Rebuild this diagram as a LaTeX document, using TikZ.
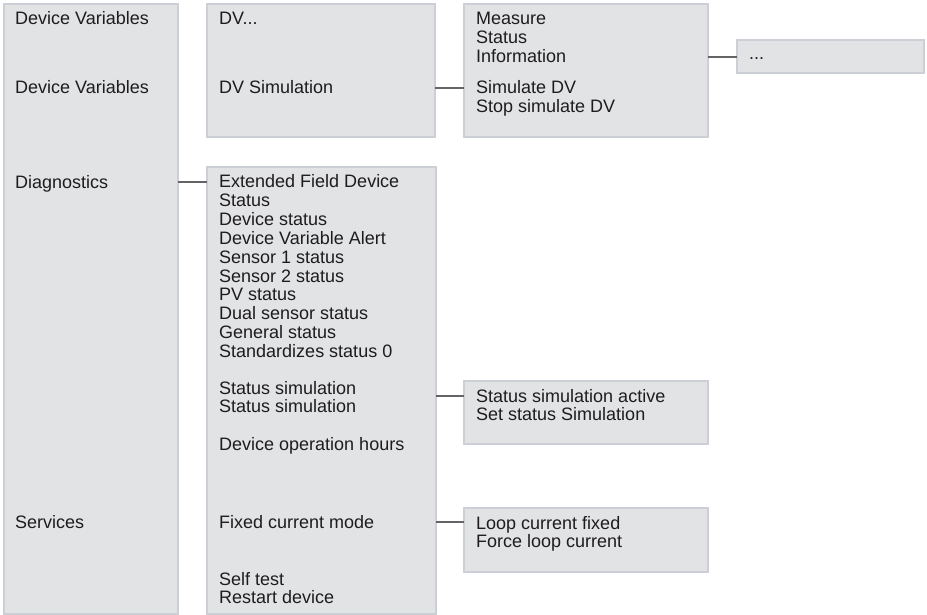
\documentclass[tikz,border=0pt]{standalone}
\usepackage{fontspec}
\setmainfont{Liberation Sans}
\usetikzlibrary{positioning}

\definecolor{boxfill}{RGB}{226,227,229}
\definecolor{boxline}{RGB}{204,207,213}
\definecolor{linkgray}{RGB}{100,100,102}
\definecolor{textgray}{RGB}{30,28,29}

\begin{document}
\begin{tikzpicture}[x=1pt,y=-1pt]

		\tikzstyle{box}=[rectangle,
			fill=boxfill,draw=boxline,line width=1.3pt,
			anchor=north west,inner sep=0mm,outer sep=0mm]
		\tikzstyle{item}=[anchor=base west,inner sep=0mm,
			text height=12pt,text depth=0pt,text=textgray,
			font=\fontsize{18}{19}\selectfont]
		\tikzstyle{link}=[draw=linkgray,line width=2pt]

		\useasboundingbox (0,0) rectangle (927,615);

		% boxes
		\node[box,minimum width=174pt,minimum height=610pt]	(menu)	at (4,4)	{};
		\node[box,minimum width=228pt,minimum height=133pt,right=29pt of menu.north east,anchor=north west]	(dv)	{};
		\node[box,minimum width=244pt,minimum height=133pt,right=29pt of dv.north east,anchor=north west]	(dvsub)	{};
		\node[box,minimum width=187pt,minimum height=33pt]	(more)	at (737,40)	{};
		\node[box,minimum width=229pt,minimum height=447pt,below=30pt of dv.south west,anchor=north west]	(diag)	{};
		\node[box,minimum width=244pt,minimum height=63pt]	(statsim)	at (464,381)	{};
		\node[box,minimum width=244pt,minimum height=64pt]	(loop)	at (464,508)	{};

		% menu texts
		\node[item]	(m-dv1)	at (15,25)	{Device Variables};
		\node[item]	(m-dv2)	at (15,94)	{Device Variables};
		\node[item]	(m-diag)	at (15,189)	{Diagnostics};
		\node[item]	(m-serv)	at (15,528)	{Services};

		\node[item]	(dvdots)	at (219,25)	{DV...};
		\node[item]	(dvsim)	at (219,94)	{DV Simulation};

		\foreach \t [count=\i from 0] in {Measure,Status,Information}
			\node[item]	(sub\i)	at (476,25+18.8*\i)	{\t};
		\node[item]	(simdv)	at (476,94)	{Simulate DV};
		\node[item]	(stopdv)	at (476,112.8)	{Stop simulate DV};

		\node[item]	(dots)	at (749,60)	{...};

		% diagnostics and services
		\foreach \t [count=\i from 0] in {Extended Field Device,Status,Device status,
				Device Variable Alert,Sensor 1 status,Sensor 2 status,PV status,
				Dual sensor status,General status,Standardizes status 0}
			\node[item]	(d\i)	at (219,188+18.8*\i)	{\t};
		\node[item]	(ssim1)	at (219,394)	{Status simulation};
		\node[item]	(ssim2)	at (219,412.8)	{Status simulation};
		\node[item]	(hours)	at (219,450)	{Device operation hours};
		\node[item]	(fixed)	at (219,528)	{Fixed current mode};
		\node[item]	(selftest)	at (219,585)	{Self test};
		\node[item]	(restart)	at (219,603.8)	{Restart device};

		\node[item]	(active)	at (476,402)	{Status simulation active};
		\node[item]	(setsim)	at (476,420.8)	{Set status Simulation};
		\node[item]	(loopfix)	at (476,529)	{Loop current fixed};
		\node[item]	(force)	at (476,547.8)	{Force loop current};

		% connectors
		\draw[link]	(dv.east |- dvsim)	--	(dvsub.west |- dvsim);
		\draw[link]	(dvsub.east |- sub2)	--	(more.west |- sub2);
		\draw[link]	(menu.east |- d0)	--	(diag.west |- d0);
		\draw[link]	(diag.east |- active)	--	(statsim.west |- active);
		\draw[link]	(diag.east |- fixed)	--	(loop.west |- fixed);

	\end{tikzpicture}
\end{document}
